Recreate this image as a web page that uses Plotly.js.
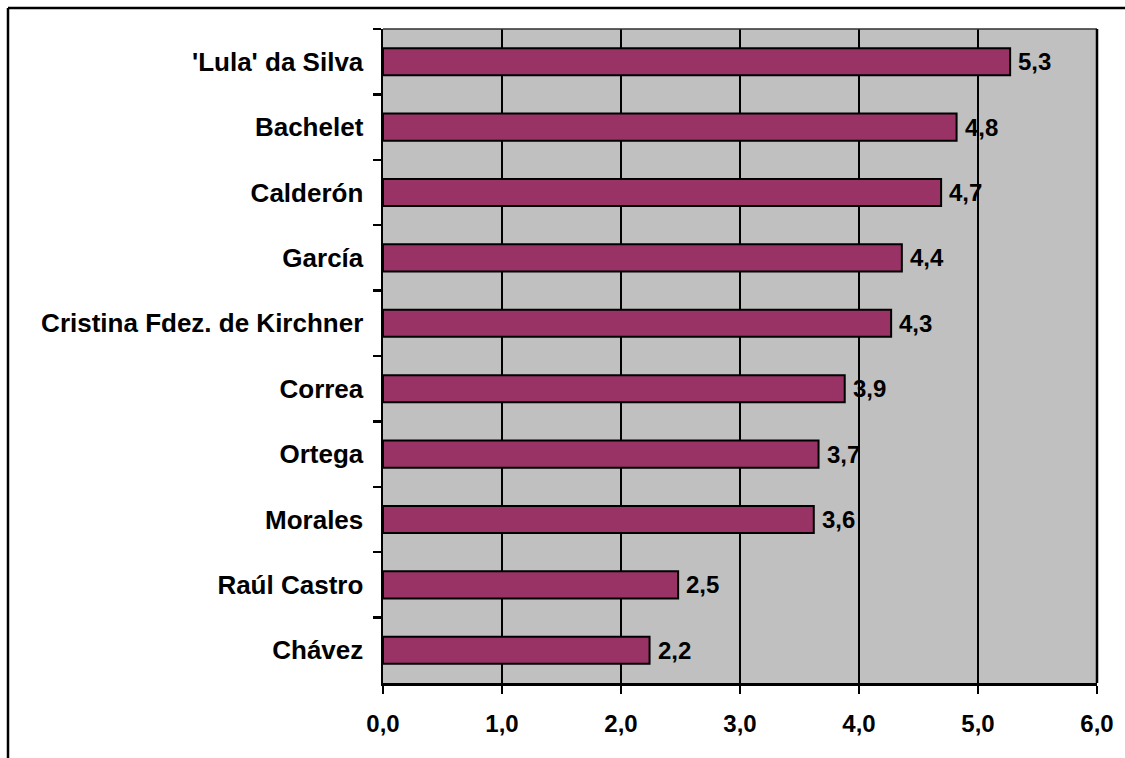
<!DOCTYPE html>
<html>
<head>
<meta charset="utf-8">
<script src="https://cdn.plot.ly/plotly-3.0.1.min.js"></script>
<style>
html,body{margin:0;padding:0;background:#fff;}
#chart{width:1125px;height:758px;}
</style>
</head>
<body>
<div id="chart"></div>
<script>
// Data (top to bottom as shown)
const leaders = ["'Lula' da Silva", "Bachelet", "Calderón", "García", "Cristina Fdez. de Kirchner", "Correa", "Ortega", "Morales", "Raúl Castro", "Chávez"];
const scores = [5.27, 4.82, 4.69, 4.36, 4.27, 3.88, 3.66, 3.62, 2.48, 2.24];
const valueLabels = ['5,3', '4,8', '4,7', '4,4', '4,3', '3,9', '3,7', '3,6', '2,5', '2,2'];
const xTickValues = [0, 1, 2, 3, 4, 5, 6];

const FONT = 'Liberation Sans, Arial, sans-serif';

const trace = {
  type: 'bar',
  orientation: 'h',
  y: leaders,
  x: scores,
  marker: {color: '#993366', line: {color: '#000000', width: 2}},
  hoverinfo: 'skip'
};

const annotations = leaders.map((name, i) => ({
  x: scores[i], y: name, xref: 'x', yref: 'y',
  text: valueLabels[i], showarrow: false,
  xanchor: 'left', yanchor: 'middle', xshift: 6,
  font: {family: FONT, size: 24, color: '#000', weight: 'bold'}
}));

const layout = {
  width: 1125, height: 758,
  margin: {l: 383, r: 28, t: 29, b: 75, pad: 0},
  paper_bgcolor: '#ffffff',
  plot_bgcolor: '#c0c0c0',
  separators: ',.',
  showlegend: false,
  bargap: 0.585,
  font: {family: FONT, color: '#000'},
  xaxis: {
    range: [0, 6],
    tickvals: xTickValues,
    tickformat: '.1f',
    showgrid: true, gridcolor: '#000000', gridwidth: 2,
    zeroline: false,
    showline: true, linecolor: '#000000', linewidth: 2.5,
    ticks: 'outside', ticklen: 8, tickwidth: 2.5, tickcolor: '#000',
    ticklabelstandoff: 10,
    tickfont: {size: 24, weight: 'bold', color: '#000', family: FONT},
    fixedrange: true
  },
  yaxis: {
    type: 'category',
    autorange: 'reversed',
    showgrid: false, zeroline: false,
    showline: true, linecolor: '#000000', linewidth: 2.5,
    ticks: 'outside', ticklen: 8, tickwidth: 2.5, tickcolor: '#000',
    tickson: 'boundaries',
    ticklabelstandoff: 12,
    tickfont: {size: 26, weight: 'bold', color: '#000', family: FONT},
    fixedrange: true
  },
  annotations: annotations,
  shapes: [
    // plot area top and right border
    {type: 'line', xref: 'paper', yref: 'paper', x0: 0, x1: 1, y0: 1, y1: 1, line: {color: '#303030', width: 1.5}},
    {type: 'line', xref: 'paper', yref: 'paper', x0: 1, x1: 1, y0: 0, y1: 1, line: {color: '#000', width: 2.5}},
    // outer chart frame (top and left)
    {type: 'line', xref: 'paper', yref: 'paper', x0: -375/714, x1: 1.05, y0: 1 + 21/654, y1: 1 + 21/654, line: {color: '#000', width: 2.5}},
    {type: 'line', xref: 'paper', yref: 'paper', x0: -375/714, x1: -375/714, y0: 1 + 21/654, y1: -0.2, line: {color: '#000', width: 2.5}}
  ]
};

Plotly.newPlot('chart', [trace], layout, {displayModeBar: false, staticPlot: true});
</script>
</body>
</html>
